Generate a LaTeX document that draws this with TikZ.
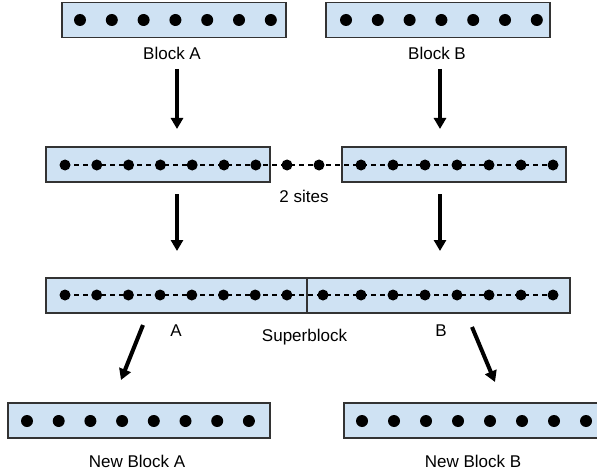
\documentclass[tikz,border=0pt]{standalone}
\usepackage{fontspec}
\setmainfont{Liberation Sans}
\usetikzlibrary{arrows.meta}
\definecolor{boxfill}{HTML}{CFE2F3}
\definecolor{boxline}{HTML}{333333}
\begin{document}
\begin{tikzpicture}[x=1pt,y=-1pt,
  blk/.style={draw=boxline, fill=boxfill, line width=1.4pt, inner sep=0pt, minimum height=35pt, rectangle},
  site/.style={circle, fill=black, inner sep=0pt, minimum size=12pt},
  bsite/.style={circle, fill=black, inner sep=0pt, minimum size=11pt},
  lbl/.style={font=\fontsize{17}{20}\selectfont, inner sep=0pt, anchor=base},
  arr/.style={line width=4pt, -{Triangle[length=11pt,width=12pt]}},
  bond/.style={line width=1.2pt, dash pattern=on 5pt off 4pt}]
\useasboundingbox (0,0) rectangle (597,476);
\clip (0,0) rectangle (597,476);
% row 1
\node[blk, minimum width=224pt] (blockA) at (174,20) {};
\node[blk, minimum width=224pt] (blockB) at (438,20) {};
\foreach \i in {0,...,6} {
  \node[site] (a1d\i) at ({80+31.8*\i},20) {};
  \node[site] (b1d\i) at ({346+31.8*\i},20) {};
}
\node[lbl] (labA) at (172,60) {Block A};
\node[lbl] (labB) at (437,60) {Block B};
% row 2
\node[blk, minimum width=224pt] (encA) at (158,164.5) {};
\node[blk, minimum width=224pt] (encB) at (454,164.5) {};
\foreach \i in {0,...,6} {
  \coordinate (a2d\i) at ({65+31.8*\i},165);
  \coordinate (b2d\i) at ({361+32*\i},165);
}
\coordinate (s1) at (287,165);
\coordinate (s2) at (319,165);
\draw[bond] (a2d0) -- (b2d6);
\foreach \i in {0,...,6} {
  \node[bsite] at (a2d\i) {};
  \node[bsite] at (b2d\i) {};
}
\node[bsite] (site1) at (s1) {};
\node[bsite] (site2) at (s2) {};
\node[lbl] (twosites) at (304,202) {2 sites};
% row 3
\node[blk, minimum width=261pt] (supA) at (176.5,295.5) {};
\node[blk, minimum width=263pt] (supB) at (438.5,295.5) {};
\foreach \i in {0,...,7} {
  \coordinate (a3d\i) at ({65+31.7*\i},295);
}
\coordinate (b3d0) at (323,295);
\foreach \i in {1,...,7} {
  \coordinate (b3d\i) at ({329+32*\i},295);
}
\draw[bond] (a3d0) -- (b3d7);
\foreach \i in {0,...,7} {
  \node[bsite] at (a3d\i) {};
  \node[bsite] at (b3d\i) {};
}
\node[lbl] (labsA) at (176,336) {A};
\node[lbl] (labsB) at (441,336) {B};
\node[lbl] (labsup) at (304.5,341) {Superblock};
% row 4
\node[blk, minimum width=262pt] (newA) at (139,420.5) {};
\node[blk, minimum width=262pt] (newB) at (475,420.5) {};
\foreach \i in {0,...,7} {
  \node[site] (a4d\i) at ({27+31.7*\i},421) {};
  \node[site] (b4d\i) at ({362+32*\i},421) {};
}
\node[lbl] (labnA) at (137,467) {New Block A};
\node[lbl] (labnB) at (473,467) {New Block B};
% arrows
\coordinate (p1s) at (177,69);  \coordinate (p1e) at (177,129);
\coordinate (q1s) at (440,69);  \coordinate (q1e) at (440,129);
\coordinate (p2s) at (177,194); \coordinate (p2e) at (177,251);
\coordinate (q2s) at (440,194); \coordinate (q2e) at (440,251);
\coordinate (p3s) at (143,325); \coordinate (p3e) at (121,380);
\coordinate (q3s) at (472,327); \coordinate (q3e) at (495,382);
\draw[arr] (p1s) -- (p1e);
\draw[arr] (q1s) -- (q1e);
\draw[arr] (p2s) -- (p2e);
\draw[arr] (q2s) -- (q2e);
\draw[arr] (p3s) -- (p3e);
\draw[arr] (q3s) -- (q3e);
\end{tikzpicture}
\end{document}
